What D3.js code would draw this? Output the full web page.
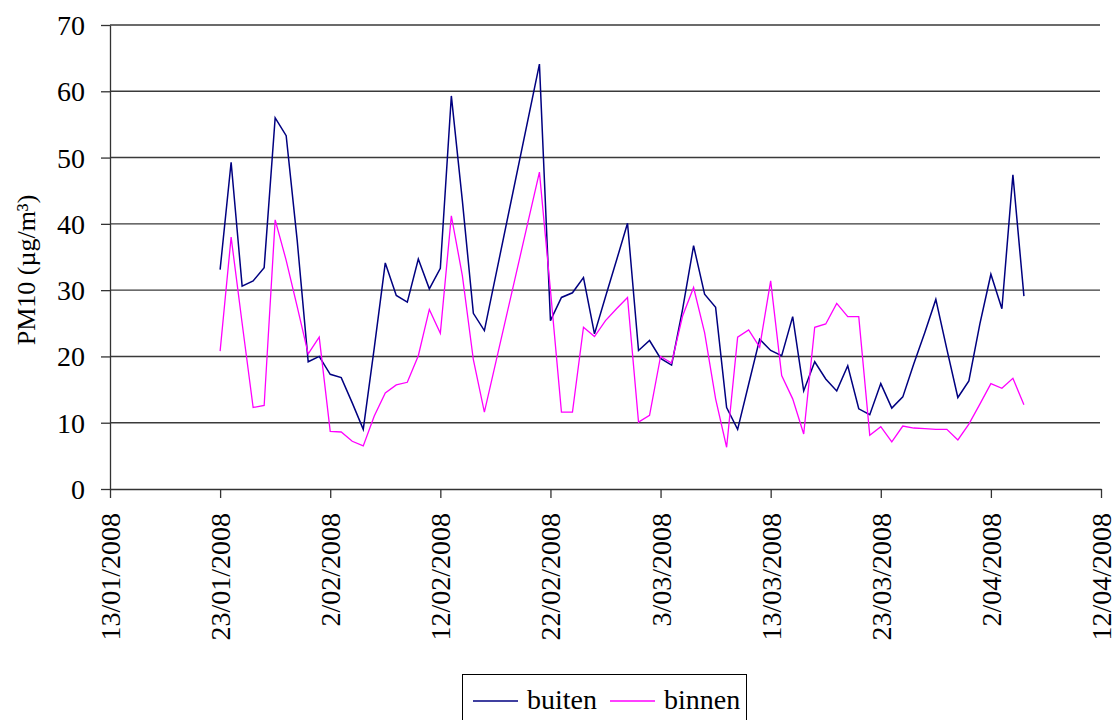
<!DOCTYPE html>
<html>
<head>
<meta charset="utf-8">
<script src="https://cdn.jsdelivr.net/npm/d3@7"></script>
<style>
  html, body { margin: 0; padding: 0; background: #fff; }
  svg { display: block; font-family: "Liberation Serif", "Times New Roman", serif; }
</style>
</head>
<body>
<svg id="chart" width="1115" height="720"></svg>
<script>
// ---- data ----
const dates = [
  "23/01/2008","24/01/2008","25/01/2008","26/01/2008","27/01/2008","28/01/2008","29/01/2008","30/01/2008","31/01/2008",
  "1/02/2008","2/02/2008","3/02/2008","4/02/2008","5/02/2008","6/02/2008","7/02/2008","8/02/2008","9/02/2008","10/02/2008",
  "11/02/2008","12/02/2008","13/02/2008","14/02/2008","15/02/2008","16/02/2008",
  "21/02/2008","22/02/2008","23/02/2008","24/02/2008","25/02/2008","26/02/2008","27/02/2008","28/02/2008","29/02/2008",
  "1/03/2008","2/03/2008","3/03/2008","4/03/2008","5/03/2008","6/03/2008","7/03/2008","8/03/2008","9/03/2008","10/03/2008",
  "11/03/2008","12/03/2008","13/03/2008","14/03/2008","15/03/2008","16/03/2008","17/03/2008","18/03/2008","19/03/2008","20/03/2008",
  "21/03/2008","22/03/2008","23/03/2008","24/03/2008","25/03/2008","26/03/2008","27/03/2008","28/03/2008","29/03/2008","30/03/2008",
  "31/03/2008","1/04/2008","2/04/2008","3/04/2008","4/04/2008","5/04/2008"
];
const buiten = [
  33.1, 49.3, 30.6, 31.4, 33.4, 56.0, 53.3, 37.5, 19.2,
  20.0, 17.3, 16.8, 13.0, 9.0, 21.3, 34.1, 29.2, 28.2, 34.7,
  30.2, 33.3, 59.3, 43.5, 26.5, 23.9,
  64.1, 25.4, 28.9, 29.6, 31.9, 23.4, 29.0, 34.5, 40.1,
  20.9, 22.4, 19.7, 18.7, 27.1, 36.7, 29.4, 27.4, 12.3, 9.0,
  15.8, 22.6, 20.9, 20.1, 26.0, 14.8, 19.2, 16.6, 14.8, 18.6,
  12.1, 11.2, 15.9, 12.2, 13.9, 18.9, 23.6, 28.6, 21.1, 13.8,
  16.3, 24.9, 32.4, 27.2, 47.4, 29.1
];
const binnen = [
  20.8, 38.0, 25.0, 12.3, 12.6, 40.6, 34.5, 27.5, 20.4,
  22.9, 8.7, 8.6, 7.2, 6.5, 11.0, 14.5, 15.7, 16.1, 20.1,
  27.1, 23.5, 41.2, 32.2, 19.5, 11.6,
  47.8, 30.0, 11.6, 11.6, 24.4, 23.0, 25.4, 27.2, 28.9,
  10.1, 11.1, 20.0, 19.0, 26.1, 30.4, 23.6, 13.6, 6.3, 22.9,
  24.0, 21.4, 31.4, 17.1, 13.6, 8.3, 24.4, 24.9, 28.0, 26.0,
  26.0, 8.1, 9.4, 7.1, 9.5, 9.2, 9.1, 9.0, 9.0, 7.4,
  9.8, 12.8, 15.9, 15.2, 16.7, 12.7
];
const xTickLabels = ["13/01/2008","23/01/2008","2/02/2008","12/02/2008","22/02/2008","3/03/2008","13/03/2008","23/03/2008","2/04/2008","12/04/2008"];
const yTicks = [0, 10, 20, 30, 40, 50, 60, 70];
const seriesNames = ["buiten", "binnen"];
const seriesColors = ["#000080", "#ff00ff"];

// ---- layout ----
const parse = d3.utcParse("%d/%m/%Y");
const fmt = d3.utcFormat("%-d/%m/%Y");
const plotLeft = 110, plotRight = 1101, plotTop = 25, plotBottom = 489;

const x = d3.scaleUtc()
  .domain([parse(xTickLabels[0]), parse(xTickLabels[xTickLabels.length - 1])])
  .range([plotLeft, plotRight]);
const y = d3.scaleLinear().domain([0, 70]).range([plotBottom, plotTop]);

const svg = d3.select("#chart");

// gridlines
svg.append("g").selectAll("line")
  .data(yTicks.filter(v => v > 0))
  .join("line")
  .attr("x1", plotLeft).attr("x2", plotRight - 1)
  .attr("y1", d => y(d)).attr("y2", d => y(d))
  .attr("stroke", "#3a3a3a").attr("stroke-width", 1.4);

// y axis
const yAxis = svg.append("g")
  .attr("transform", `translate(${plotLeft},0)`)
  .call(d3.axisLeft(y).tickValues(yTicks).tickSize(9).tickSizeOuter(0).tickFormat(d3.format("d")));
yAxis.select(".domain").attr("stroke", "#333").attr("stroke-width", 1.3);
yAxis.selectAll(".tick line").attr("stroke", "#333").attr("stroke-width", 1.3);
yAxis.selectAll(".tick text")
  .attr("x", -25).attr("dy", "0.34em")
  .attr("font-family", "Liberation Serif").attr("font-size", 28).attr("fill", "#000");

// x axis
const xAxis = svg.append("g")
  .attr("transform", `translate(0,${plotBottom})`)
  .call(d3.axisBottom(x).tickValues(xTickLabels.map(parse)).tickSize(9).tickSizeOuter(0).tickFormat(fmt));
xAxis.select(".domain").attr("stroke", "#333").attr("stroke-width", 1.3);
xAxis.selectAll(".tick line").attr("stroke", "#333").attr("stroke-width", 1.3);
xAxis.selectAll(".tick text")
  .attr("transform", "rotate(-90)")
  .attr("x", -24).attr("y", 9.5).attr("dy", 0)
  .attr("text-anchor", "end")
  .attr("font-family", "Liberation Serif").attr("font-size", 28).attr("fill", "#000");

// y axis title
svg.append("text")
  .attr("transform", "translate(35,270) rotate(-90)")
  .attr("text-anchor", "middle")
  .attr("font-size", 26)
  .attr("fill", "#000")
  .text("PM10 (µg/m³)");

// lines
const pts = dates.map(parse);
const line = d3.line().x(d => x(d[0])).y(d => y(d[1]));
[buiten, binnen].forEach((vals, i) => {
  svg.append("path")
    .datum(pts.map((p, j) => [p, vals[j]]))
    .attr("d", line)
    .attr("fill", "none")
    .attr("stroke", seriesColors[i])
    .attr("stroke-width", i === 0 ? 1.5 : 1.3)
    .attr("stroke-linejoin", "miter");
});

// legend
const lg = svg.append("g");
lg.append("rect")
  .attr("x", 462.5).attr("y", 674.5).attr("width", 284).attr("height", 52)
  .attr("fill", "#fff").attr("stroke", "#000").attr("stroke-width", 1);
const legendItems = [{x: 473, tx: 527}, {x: 610, tx: 664}];
seriesNames.forEach((name, i) => {
  lg.append("line")
    .attr("x1", legendItems[i].x).attr("x2", legendItems[i].x + 45)
    .attr("y1", 701).attr("y2", 701)
    .attr("stroke", seriesColors[i]).attr("stroke-width", 1.3);
  lg.append("text")
    .attr("x", legendItems[i].tx).attr("y", 709)
    .attr("font-size", 28).attr("fill", "#000")
    .text(name);
});
</script>
</body>
</html>
